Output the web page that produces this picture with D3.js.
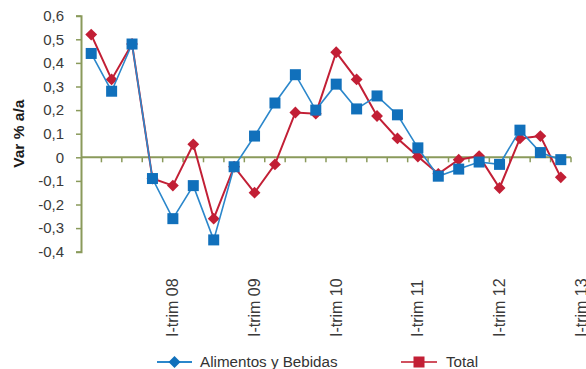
<!DOCTYPE html>
<html><head><meta charset="utf-8">
<script src="https://cdn.jsdelivr.net/npm/d3@7"></script>
<style>
body{margin:0;background:#fff;}
svg{display:block;font-family:"Liberation Sans",Arial,sans-serif;}
</style></head>
<body><svg id="c" width="586" height="369"></svg>
<script>
// Quarters from I-trim 07 to IV-trim 12
const categories = ["I-07","II-07","III-07","IV-07","I-08","II-08","III-08","IV-08","I-09","II-09","III-09","IV-09",
  "I-10","II-10","III-10","IV-10","I-11","II-11","III-11","IV-11","I-12","II-12","III-12","IV-12"];
const alimentos = [0.44,0.28,0.48,-0.09,-0.26,-0.12,-0.35,-0.04,0.09,0.23,0.35,0.20,
  0.31,0.205,0.26,0.18,0.04,-0.08,-0.05,-0.02,-0.03,0.115,0.02,-0.01];
const total = [0.52,0.33,0.48,-0.09,-0.12,0.055,-0.26,-0.04,-0.15,-0.03,0.19,0.185,
  0.445,0.33,0.175,0.08,0.003,-0.07,-0.01,0.005,-0.13,0.08,0.09,-0.085];
const yTicks = [-0.4,-0.3,-0.2,-0.1,0,0.1,0.2,0.3,0.4,0.5,0.6];
const xLabelIdx = [4,8,12,16,20,24];
const xLabels = ["I-trim 08","I-trim 09","I-trim 10","I-trim 11","I-trim 12","I-trim 13"];
const legendNames = ["Alimentos y Bebidas","Total"];

(function(){
const svg = d3.select("#c");
const axisCol = "#8a9a5b", blueM = "#1170bb", blueL = "#2b87cb", red = "#c21f35";
const pl = 81, pr = 571, pt = 15.7, pb = 251.7;
const y = d3.scaleLinear().domain([-0.4,0.6]).range([pb, pt]);
const x = d3.scaleLinear().domain([-0.5, categories.length-0.5]).range([pl, pr]);
const fmt = v => Math.abs(v) < 1e-9 ? "0" : d3.format(".1f")(v).replace(".", ",").replace("−","-");

// y axis
const yAxis = d3.axisLeft(y).tickValues(yTicks).tickSize(5).tickPadding(12).tickFormat(fmt);
const gy = svg.append("g").attr("transform", `translate(${pl},0)`).call(yAxis);
gy.select(".domain").attr("stroke", axisCol).attr("stroke-width", 2);
gy.selectAll(".tick line").attr("stroke", axisCol).attr("stroke-width", 1.5);
gy.selectAll(".tick text").attr("fill", "#3a3a3a").style("font-size", "15px").style("font-family","Liberation Sans, Arial, sans-serif");

// x axis at zero
const bounds = d3.range(categories.length + 1).map(i => i - 0.5);
const gx = svg.append("g");
gx.append("line").attr("x1", pl).attr("x2", pr).attr("y1", y(0)).attr("y2", y(0))
  .attr("stroke", axisCol).attr("stroke-width", 2);
gx.selectAll("line.t").data(bounds.slice(1)).join("line").attr("class","t")
  .attr("x1", d => x(d)).attr("x2", d => x(d)).attr("y1", y(0)).attr("y2", y(0) + 5)
  .attr("stroke", axisCol).attr("stroke-width", 1.5);

// x labels
svg.append("g").selectAll("text").data(xLabelIdx).join("text")
  .attr("transform", (d) => `translate(${x(d)},337) rotate(-90)`)
  .attr("dy", "0.35em").attr("text-anchor", "start")
  .attr("fill", "#3a3a3a").style("font-size", "16px")
  .text((d,i) => xLabels[i]);

// y title
svg.append("text").attr("transform", `translate(19,${(pt+pb)/2}) rotate(-90)`)
  .attr("text-anchor","middle").attr("dy","0.35em")
  .style("font-size","15.5px").style("font-weight","bold").attr("fill","#1a1a1a")
  .text("Var % a/a");

const line = d3.line().x((d,i) => x(i)).y(d => y(d));

// Total (red)
svg.append("path").datum(total).attr("d", line).attr("fill","none").attr("stroke", red).attr("stroke-width", 2);
svg.append("g").selectAll("path").data(total).join("path")
  .attr("transform", (d,i) => `translate(${x(i)},${y(d)}) rotate(45)`)
  .attr("d", d3.symbol().type(d3.symbolSquare).size(70)).attr("fill", red);

// Alimentos (blue)
svg.append("path").datum(alimentos).attr("d", line).attr("fill","none").attr("stroke", blueL).attr("stroke-width", 1.6);
svg.append("g").selectAll("rect").data(alimentos).join("rect")
  .attr("x", (d,i) => x(i) - 5.5).attr("y", d => y(d) - 5.5)
  .attr("width", 11).attr("height", 11).attr("fill", blueM);

// legend
const lg = svg.append("g");
lg.append("line").attr("x1",157).attr("x2",192).attr("y1",362).attr("y2",362).attr("stroke",blueL).attr("stroke-width",2);
lg.append("path").attr("transform","translate(174.5,362) rotate(45)")
  .attr("d", d3.symbol().type(d3.symbolSquare).size(72)).attr("fill", blueM);
lg.append("text").attr("x",200).attr("y",362).attr("dy","0.35em").style("font-size","15.2px").attr("fill","#333").text(legendNames[0]);
lg.append("line").attr("x1",401).attr("x2",437).attr("y1",362).attr("y2",362).attr("stroke","#d0505e").attr("stroke-width",2);
lg.append("rect").attr("x",413.5).attr("y",356.5).attr("width",11).attr("height",11).attr("fill",red);
lg.append("text").attr("x",446).attr("y",362).attr("dy","0.35em").style("font-size","15.2px").attr("fill","#333").text(legendNames[1]);
})();
</script></body></html>
